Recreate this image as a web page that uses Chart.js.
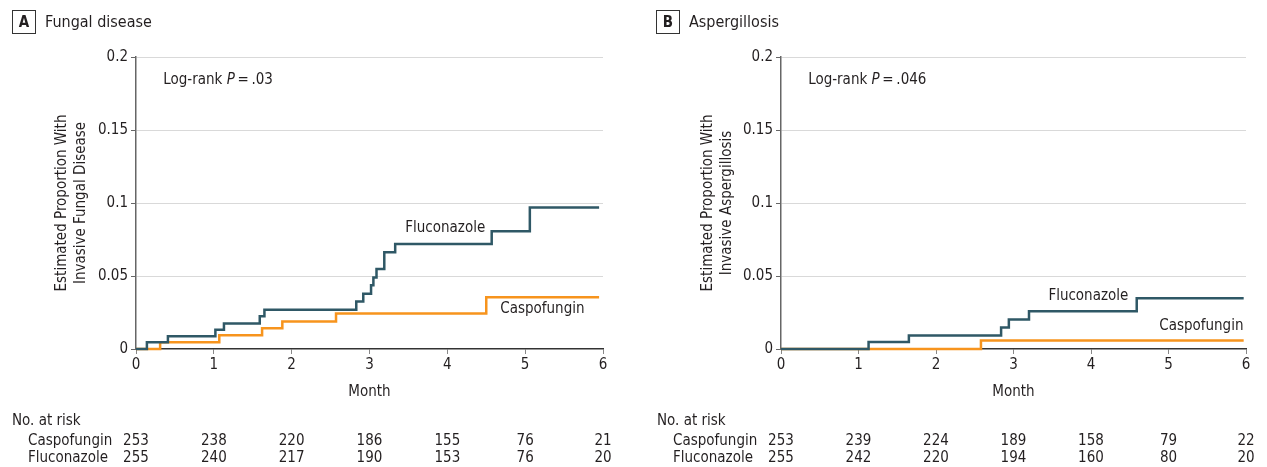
<!DOCTYPE html>
<html>
<head>
<meta charset="utf-8">
<title>Cumulative incidence of invasive fungal disease and aspergillosis</title>
<script src="https://cdn.jsdelivr.net/npm/chart.js@4.4.1/dist/chart.umd.min.js"></script>
<style>
  html, body { margin: 0; padding: 0; background: #fff; }
  #wrap { position: relative; width: 1267px; height: 467px; }
  canvas { position: absolute; top: 0; display: block; }
  #panelA { left: 0; }
  #panelB { left: 633px; }
</style>
</head>
<body>
<div id="wrap">
  <canvas id="panelA" width="633" height="467"></canvas>
  <canvas id="panelB" width="634" height="467"></canvas>
</div>
<script>
// Month ticks shared by both panels
const months = [0, 1, 2, 3, 4, 5, 6];
const groups = ['Caspofungin', 'Fluconazole'];

// Panel A - invasive fungal disease (event times in months, cumulative proportion)
const fungalFluTimes = [0, 0.14, 0.41, 1.02, 1.13, 1.59, 1.65, 2.83, 2.92, 3.02, 3.05, 3.09, 3.19, 3.33, 4.57, 5.06, 5.95];
const fungalFluValues = [0, 0.0046, 0.0087, 0.0132, 0.0174, 0.0224, 0.0269, 0.0326, 0.0379, 0.0436, 0.0489, 0.0548, 0.0662, 0.0719, 0.0806, 0.0970, 0.0970];
const fungalCasTimes = [0, 0.31, 1.07, 1.62, 1.88, 2.57, 4.50, 5.95];
const fungalCasValues = [0, 0.0046, 0.0094, 0.0142, 0.0189, 0.0244, 0.0354, 0.0354];
const fungalRiskCas = [253, 238, 220, 186, 155, 76, 21];
const fungalRiskFlu = [255, 240, 217, 190, 153, 76, 20];

// Panel B - aspergillosis
const aspFluTimes = [0, 1.13, 1.65, 2.84, 2.94, 3.20, 4.59, 5.97];
const aspFluValues = [0, 0.0048, 0.0093, 0.0148, 0.0202, 0.0259, 0.0348, 0.0348];
const aspCasTimes = [0, 2.58, 5.97];
const aspCasValues = [0, 0.0059, 0.0059];
const aspRiskCas = [253, 239, 224, 189, 158, 79, 22];
const aspRiskFlu = [255, 242, 220, 194, 160, 80, 20];

const FONT = "'DejaVu Sans Condensed', 'DejaVu Sans', sans-serif";
const TEXT = '#231f20';
const FLU_COLOR = '#2f5866';
const CAS_COLOR = '#f7941d';

function toPoints(times, values) {
    return times.map((t, i) => ({ x: t, y: values[i] }));
}

// Draws header, annotations, y title, x title and the at-risk table
const extrasPlugin = {
    id: 'extras',
    afterDraw(chart) {
        const o = chart.options.plugins.extras;
        const ctx = chart.ctx;
        const xs = chart.scales.x;
        const ys = chart.scales.y;
        const area = chart.chartArea;
        ctx.save();
        ctx.fillStyle = TEXT;
        ctx.textBaseline = 'middle';

        // panel header box + title
        ctx.strokeStyle = '#333';
        ctx.lineWidth = 1;
        ctx.strokeRect(o.boxX + 0.5, 10.5, 23, 23);
        ctx.font = 'bold 15px ' + FONT;
        ctx.textAlign = 'center';
        ctx.fillText(o.letter, o.boxX + 12, 23);
        ctx.font = '16px ' + FONT;
        ctx.textAlign = 'left';
        ctx.fillText(o.title, o.boxX + 33, 23);

        // log-rank text
        ctx.font = '15px ' + FONT;
        let lx = xs.getPixelForValue(o.logRank.x);
        const ly = ys.getPixelForValue(o.logRank.y);
        ctx.fillText('Log-rank ', lx, ly);
        lx += ctx.measureText('Log-rank ').width;
        ctx.font = 'italic 15px ' + FONT;
        ctx.fillText('P', lx, ly);
        lx += ctx.measureText('P').width;
        ctx.font = '15px ' + FONT;
        ctx.fillText('\u2009=\u2009' + o.logRank.p, lx, ly);

        // curve labels
        o.curveLabels.forEach(l => {
            ctx.fillText(l.text, xs.getPixelForValue(l.x), ys.getPixelForValue(l.y));
        });

        // y axis title (two lines, rotated)
        ctx.save();
        ctx.translate(o.yTitleX, (area.top + area.bottom) / 2);
        ctx.rotate(-Math.PI / 2);
        ctx.textAlign = 'center';
        ctx.fillText(o.yTitle[0], 0, 0);
        ctx.fillText(o.yTitle[1], 0, 19);
        ctx.restore();

        // x axis title
        ctx.textAlign = 'center';
        ctx.fillText('Month', (area.left + area.right) / 2, 392);

        // number at risk table
        ctx.textAlign = 'left';
        ctx.fillText('No. at risk', o.tableX, 421);
        const rowY = [441, 458];
        o.risk.forEach((row, r) => {
            ctx.textAlign = 'left';
            ctx.fillText(groups[r], o.tableX + 16, rowY[r]);
            ctx.textAlign = 'center';
            row.forEach((n, i) => {
                ctx.fillText(String(n), xs.getPixelForValue(months[i]), rowY[r]);
            });
        });
        ctx.restore();
    }
};

function makePanel(canvasId, cfg) {
    const canvas = document.getElementById(canvasId);
    return new Chart(canvas, {
        type: 'line',
        data: {
            datasets: [
                {
                    label: 'Caspofungin',
                    data: toPoints(cfg.casTimes, cfg.casValues),
                    borderColor: CAS_COLOR,
                    borderWidth: 2.5,
                    stepped: true,
                    pointRadius: 0,
                    fill: false,
                    clip: 6,
                    order: 2
                },
                {
                    label: 'Fluconazole',
                    data: toPoints(cfg.fluTimes, cfg.fluValues),
                    borderColor: FLU_COLOR,
                    borderWidth: 2.5,
                    stepped: true,
                    pointRadius: 0,
                    fill: false,
                    clip: 6,
                    order: 1
                }
            ]
        },
        options: {
            responsive: false,
            animation: false,
            events: [],
            layout: { padding: { left: 0, right: cfg.padRight, top: 57, bottom: 0 } },
            plugins: {
                legend: { display: false },
                tooltip: { enabled: false },
                extras: cfg.extras
            },
            scales: {
                x: {
                    type: 'linear',
                    min: 0,
                    max: 6,
                    afterFit: s => { s.height = 118; },
                    ticks: {
                        stepSize: 1,
                        color: TEXT,
                        padding: 2,
                        font: { family: FONT, size: 15 }
                    },
                    grid: { drawOnChartArea: false, tickColor: '#888', tickLength: 5 },
                    border: { color: '#333', width: 1.5 }
                },
                y: {
                    min: 0,
                    max: 0.2,
                    afterFit: s => { s.width = cfg.left; },
                    ticks: {
                        stepSize: 0.05,
                        color: TEXT,
                        padding: 3,
                        font: { family: FONT, size: 15 },
                        callback: v => String(+v.toFixed(2))
                    },
                    grid: {
                        color: c => (c.tick && c.tick.value === 0) ? 'rgba(0,0,0,0)' : '#d9d9d9',
                        tickColor: '#666',
                        tickLength: 5,
                        lineWidth: 1
                    },
                    border: { color: '#666', width: 1.5 }
                }
            }
        },
        plugins: [extrasPlugin]
    });
}

Chart.defaults.font.family = FONT;

makePanel('panelA', {
    fluTimes: fungalFluTimes, fluValues: fungalFluValues,
    casTimes: fungalCasTimes, casValues: fungalCasValues,
    left: 136, padRight: 30,
    extras: {
        letter: 'A', title: 'Fungal disease', boxX: 12,
        logRank: { x: 0.35, y: 0.184, p: '.03' },
        curveLabels: [
            { text: 'Fluconazole', x: 3.46, y: 0.083 },
            { text: 'Caspofungin', x: 4.68, y: 0.027 }
        ],
        yTitle: ['Estimated Proportion With', 'Invasive Fungal Disease'],
        yTitleX: 62,
        tableX: 12,
        risk: [fungalRiskCas, fungalRiskFlu]
    }
});

makePanel('panelB', {
    fluTimes: aspFluTimes, fluValues: aspFluValues,
    casTimes: aspCasTimes, casValues: aspCasValues,
    left: 148, padRight: 21,
    extras: {
        letter: 'B', title: 'Aspergillosis', boxX: 23,
        logRank: { x: 0.35, y: 0.184, p: '.046' },
        curveLabels: [
            { text: 'Fluconazole', x: 3.45, y: 0.0363 },
            { text: 'Caspofungin', x: 4.88, y: 0.0158 }
        ],
        yTitle: ['Estimated Proportion With', 'Invasive Aspergillosis'],
        yTitleX: 75,
        tableX: 24,
        risk: [aspRiskCas, aspRiskFlu]
    }
});
</script>
</body>
</html>
